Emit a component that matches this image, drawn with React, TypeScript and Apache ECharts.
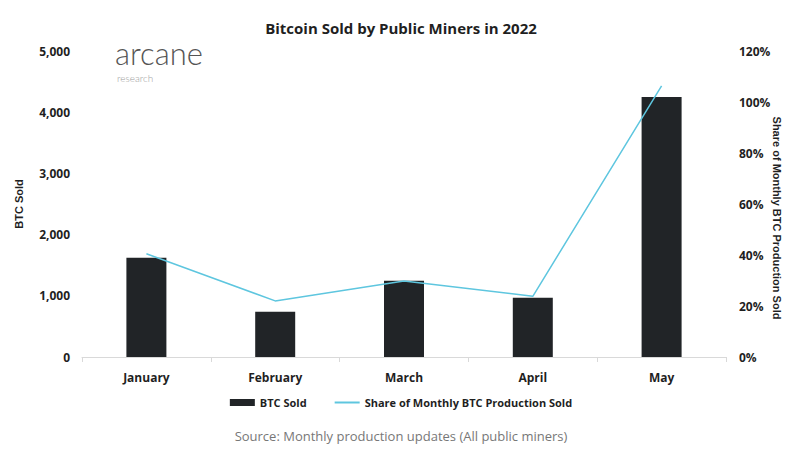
import React, { useEffect, useRef } from "react";
import * as echarts from "echarts";

const categories = ["January", "February", "March", "April", "May"];
const btcSold = [1620, 740, 1245, 970, 4250];
const shareSold = [40.5, 22, 29.8, 23.8, 106.3];
const leftTicks = { min: 0, max: 5000, interval: 1000 };
const rightTicks = { min: 0, max: 120, interval: 20 };

const FONT = "'Open Sans', Lato, sans-serif";
const AXFONT = "'Liberation Sans', Arial, sans-serif";
const DARK = "#1f1f1f";
const LINE = "#5ec6df";

export default function App() {
  const ref = useRef<HTMLDivElement>(null);
  useEffect(() => {
    if (!ref.current) return;
    const chart = echarts.init(ref.current, undefined, { renderer: "svg" });
    chart.setOption({
      animation: false,
      backgroundColor: "#ffffff",
      textStyle: { fontFamily: FONT },
      title: {
        text: "Bitcoin Sold by Public Miners in 2022",
        left: "center",
        top: 15,
        textStyle: { fontSize: 15, fontWeight: "bold", color: DARK, fontFamily: FONT },
      },
      grid: { left: 82, right: 76, top: 51, bottom: 100 },
      legend: {
        bottom: 44,
        left: "center",
        itemWidth: 25,
        itemHeight: 7,
        itemGap: 28,
        textStyle: { fontSize: 11, fontWeight: "bold", color: DARK, fontFamily: FONT },
        data: [
          { name: "BTC Sold", icon: "rect" },
          {
            name: "Share of Monthly BTC Production Sold",
            icon: "path://M0 0H25V2H0Z",
            itemStyle: { color: LINE },
          },
        ],
      },
      xAxis: {
        type: "category",
        data: categories,
        axisLine: { lineStyle: { color: "#d9d9d9" } },
        axisTick: { show: true, lineStyle: { color: "#d9d9d9" } },
        axisLabel: { fontSize: 12, fontWeight: "bold", color: DARK, margin: 14, fontFamily: FONT },
      },
      yAxis: [
        {
          type: "value",
          ...leftTicks,
          name: "BTC Sold",
          nameLocation: "middle",
          nameGap: 58,
          nameRotate: 90,
          nameTextStyle: { fontSize: 11, fontWeight: "bold", color: DARK, fontFamily: AXFONT },
          splitLine: { show: false },
          axisLine: { show: false },
          axisLabel: {
            fontSize: 12, fontWeight: "bold", color: DARK, margin: 12, fontFamily: FONT,
            formatter: (v: number) => v.toLocaleString("en-US"),
          },
        },
        {
          type: "value",
          ...rightTicks,
          splitLine: { show: false },
          axisLine: { show: false },
          axisLabel: {
            fontSize: 12, fontWeight: "bold", color: DARK, margin: 13, fontFamily: FONT,
            formatter: (v: number) => v + "%",
          },
        },
      ],
      graphic: [
        {
          type: "text",
          left: 115,
          top: 37,
          style: { text: "arcane", fontSize: 31, fontFamily: "Lato, sans-serif", fontWeight: 300, fill: "#555555" },
        },
        {
          type: "text",
          left: 117,
          top: 73,
          style: { text: "research", fontSize: 10, fontFamily: "Lato, sans-serif", fontWeight: 300, fill: "#a0a0a0" },
        },
        {
          type: "text",
          x: 777,
          y: 218,
          rotation: -Math.PI / 2,
          style: {
            text: "Share of Monthly BTC Production Sold",
            fontSize: 11, fontWeight: "bold", fontFamily: AXFONT, fill: DARK,
            align: "center", verticalAlign: "middle",
          },
        },
        {
          type: "text",
          left: "center",
          top: 429,
          style: { text: "Source: Monthly production updates (All public miners)", fontSize: 13, fontFamily: FONT, fill: "#777777" },
        },
      ],
      series: [
        {
          name: "BTC Sold",
          type: "bar",
          data: btcSold,
          barWidth: 40,
          itemStyle: { color: "#212427" },
          yAxisIndex: 0,
        },
        {
          name: "Share of Monthly BTC Production Sold",
          type: "line",
          data: shareSold,
          yAxisIndex: 1,
          symbol: "none",
          lineStyle: { color: LINE, width: 1.5 },
          itemStyle: { color: LINE },
        },
      ],
    });
    return () => chart.dispose();
  }, []);
  return <div ref={ref} style={{ width: 802, height: 457, position: "absolute", left: 0, top: 0 }} />;
}
